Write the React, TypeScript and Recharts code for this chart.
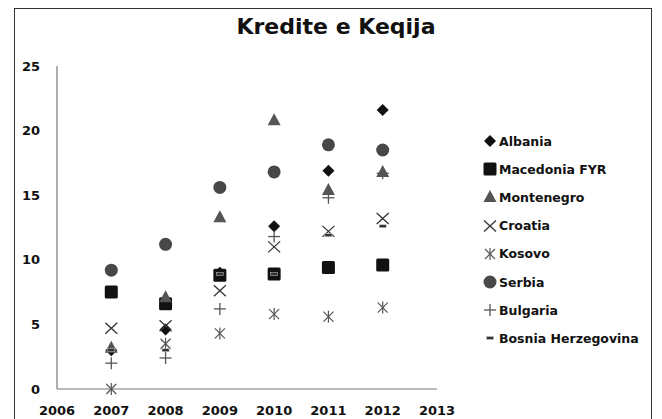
import React from 'react';
import { ScatterChart, Scatter, XAxis, YAxis, Legend } from 'recharts';

const years = [2007, 2008, 2009, 2010, 2011, 2012];
const xTicks = [2006, 2007, 2008, 2009, 2010, 2011, 2012, 2013];
const yTicks = [0, 5, 10, 15, 20, 25];

const albania = [3.0, 4.6, 9.0, 12.6, 16.9, 21.6];
const macedonia = [7.5, 6.6, 8.8, 8.9, 9.4, 9.6];
const montenegro = [3.2, 7.1, 13.3, 20.8, 15.4, 16.8];
const croatia = [4.7, 4.9, 7.6, 11.0, 12.2, 13.2];
const kosovo = [0.0, 3.5, 4.3, 5.8, 5.6, 6.3];
const serbia = [9.2, 11.2, 15.6, 16.8, 18.9, 18.5];
const bulgaria = [2.0, 2.4, 6.2, 11.8, 14.8, 16.7];
const bosnia = [3.0, 3.0, 8.9, 8.9, 11.9, 12.6];

const series = [
  { name: 'Albania', values: albania, kind: 'diamond' },
  { name: 'Macedonia FYR', values: macedonia, kind: 'square' },
  { name: 'Montenegro', values: montenegro, kind: 'triangle' },
  { name: 'Croatia', values: croatia, kind: 'x' },
  { name: 'Kosovo', values: kosovo, kind: 'star' },
  { name: 'Serbia', values: serbia, kind: 'circle' },
  { name: 'Bulgaria', values: bulgaria, kind: 'plus' },
  { name: 'Bosnia Herzegovina', values: bosnia, kind: 'dash' },
];

const FONT = '"DejaVu Sans", Verdana, sans-serif';

function Marker({ kind, cx, cy }: { kind: string; cx: number; cy: number }) {
  switch (kind) {
    case 'diamond':
      return <polygon points={`${cx},${cy - 6} ${cx + 6},${cy} ${cx},${cy + 6} ${cx - 6},${cy}`} fill="#111" />;
    case 'square':
      return <rect x={cx - 6.5} y={cy - 6.5} width={13} height={13} rx={1.5} fill="#111" />;
    case 'triangle':
      return <polygon points={`${cx},${cy - 7} ${cx + 6.5},${cy + 5} ${cx - 6.5},${cy + 5}`} fill="#555" />;
    case 'x':
      return (
        <g stroke="#333" strokeWidth={1.3}>
          <line x1={cx - 6} y1={cy - 5.5} x2={cx + 6} y2={cy + 5.5} />
          <line x1={cx - 6} y1={cy + 5.5} x2={cx + 6} y2={cy - 5.5} />
        </g>
      );
    case 'star':
      return (
        <g stroke="#555" strokeWidth={1.2}>
          <line x1={cx - 5} y1={cy - 5} x2={cx + 5} y2={cy + 5} />
          <line x1={cx - 5} y1={cy + 5} x2={cx + 5} y2={cy - 5} />
          <line x1={cx} y1={cy - 6} x2={cx} y2={cy + 6} />
        </g>
      );
    case 'circle':
      return <circle cx={cx} cy={cy} r={6.5} fill="#484848" />;
    case 'plus':
      return (
        <g stroke="#555" strokeWidth={1.3}>
          <line x1={cx - 6} y1={cy} x2={cx + 6} y2={cy} />
          <line x1={cx} y1={cy - 6} x2={cx} y2={cy + 6} />
        </g>
      );
    case 'dash':
      return <rect x={cx - 3.5} y={cy - 1.5} width={7} height={3} fill="#333" stroke="#ccc" strokeWidth={0.5} />;
    default:
      return null;
  }
}

const LegendBox = () => (
  <div style={{ fontFamily: FONT, fontWeight: 700, fontSize: 12.5, color: '#111' }}>
    {series.map((s) => (
      <div key={s.name} style={{ display: 'flex', alignItems: 'center', height: 28.2 }}>
        <svg width={16} height={16} style={{ marginRight: 1 }}>
          <Marker kind={s.kind} cx={8} cy={8} />
        </svg>
        <span>{s.name}</span>
      </div>
    ))}
  </div>
);

export default function App() {
  return (
    <div style={{ position: 'relative', width: 662, height: 419, marginLeft: -8, marginTop: -8, overflow: 'hidden', background: '#fff' }}>
      <div style={{ position: 'absolute', left: 14, top: 8, width: 636, height: 440, border: '1.5px solid #333' }} />
      <div style={{ position: 'absolute', left: 0, top: 14, width: 662, textAlign: 'center', fontFamily: FONT, fontWeight: 700, fontSize: 22, color: '#111' }}>
        <span style={{ marginLeft: 10 }}>Kredite e Keqija</span>
      </div>
      <div style={{ position: 'absolute', left: 0, top: 0 }}>
        <ScatterChart width={662} height={419} margin={{ top: 66, right: 225, bottom: 0, left: 17 }}>
          <XAxis
            type="number"
            dataKey="x"
            domain={[2006, 2013]}
            ticks={xTicks}
            interval={0}
            height={30}
            tickLine={false}
            tickSize={0}
            tickMargin={17}
            axisLine={{ stroke: '#777', strokeWidth: 1.2 }}
            tick={{ fill: '#111', fontSize: 13, fontWeight: 700, fontFamily: FONT }}
          />
          <YAxis
            type="number"
            dataKey="y"
            domain={[0, 25]}
            ticks={yTicks}
            interval={0}
            width={40}
            tickLine={false}
            tickSize={0}
            tickMargin={17}
            axisLine={{ stroke: '#777', strokeWidth: 1.2 }}
            tick={{ fill: '#111', fontSize: 13, fontWeight: 700, fontFamily: FONT }}
          />
          <Legend
            layout="horizontal"
            verticalAlign="middle"
            align="center"
            content={<LegendBox />}
            wrapperStyle={{ position: 'absolute', left: 482, top: 127, width: 180, height: 230 }}
          />
          {series.map((s) => (
            <Scatter
              key={s.name}
              name={s.name}
              data={years.map((yr, i) => ({ x: yr, y: s.values[i] }))}
              isAnimationActive={false}
              shape={(p: any) => <Marker kind={s.kind} cx={p.cx} cy={p.cy} />}
            />
          ))}
        </ScatterChart>
      </div>
    </div>
  );
}
